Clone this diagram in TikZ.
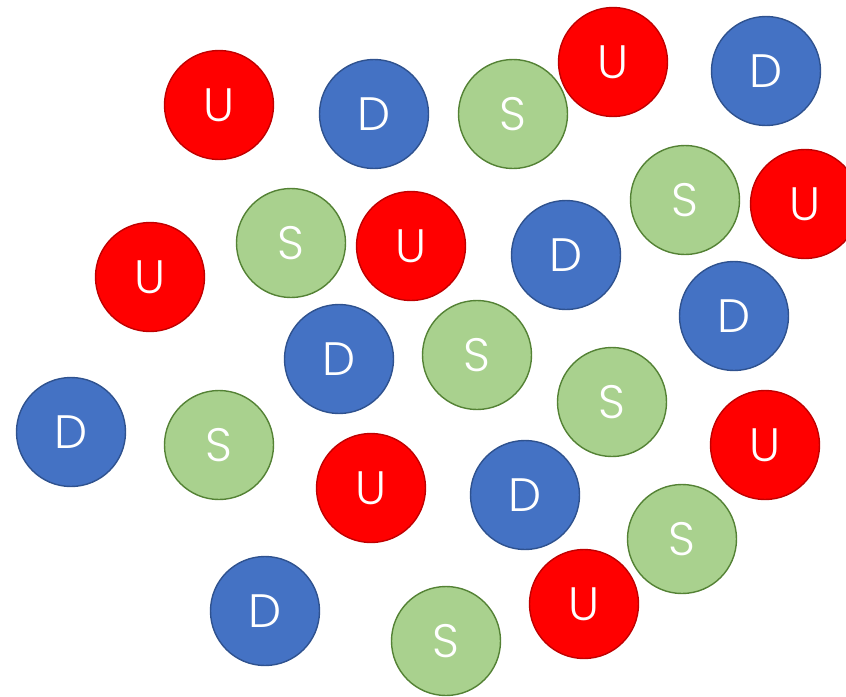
\documentclass[tikz,border=0pt]{standalone}
\usepackage{fontspec}
\newfontfamily\qfont{Poppins Light}
\usepackage{tikz}
\usetikzlibrary{positioning}
\definecolor{qred}{HTML}{FF0000}
\definecolor{qredline}{HTML}{C00000}
\definecolor{qblue}{HTML}{4472C4}
\definecolor{qblueline}{HTML}{2F528F}
\definecolor{qgreen}{HTML}{A9D18E}
\definecolor{qgreenline}{HTML}{548235}
\tikzset{
  quark/.style={circle, minimum size=3.27cm, inner sep=0pt, line width=1.2pt,
    text=white, font=\qfont\fontsize{40}{40}\selectfont},
  up/.style={quark, fill=qred, draw=qredline},
  down/.style={quark, fill=qblue, draw=qblueline},
  strange/.style={quark, fill=qgreen, draw=qgreenline},
  every picture/.style={line cap=round, line join=round}
}
\begin{document}
\begin{tikzpicture}[x=0.03cm,y=-0.03cm]
    \useasboundingbox (0,0) rectangle (846,696);

    \node[up] (u1) at (219,105) {U};
    \node[up] (u2) at (613,62) {U};
    \node[up] (u3) at (805,204) {U};
    \node[up] (u4) at (150,277) {U};
    \node[up] (u5) at (411,246) {U};
    \node[up] (u6) at (765,445) {U};
    \node[up] (u7) at (371,488) {U};
    \node[up] (u8) at (584,604) {U};

    \node[down] (d1) at (374,114) {D};
    \node[down] (d2) at (766,71) {D};
    \node[down] (d3) at (566,255) {D};
    \node[down] (d4) at (734,316) {D};
    \node[down] (d5) at (339,359) {D};
    \node[down] (d6) at (71,432) {D};
    \node[down] (d7) at (525,495) {D};
    \node[down] (d8) at (265,611) {D};

    \node[strange] (s1) at (513,114) {S};
    \node[strange] (s2) at (685,200) {S};
    \node[strange] (s3) at (291,243) {S};
    \node[strange] (s4) at (477,355) {S};
    \node[strange] (s5) at (612,402) {S};
    \node[strange] (s6) at (219,445) {S};
    \node[strange] (s7) at (682,539) {S};
    \node[strange] (s8) at (446,641) {S};
\end{tikzpicture}
\end{document}
